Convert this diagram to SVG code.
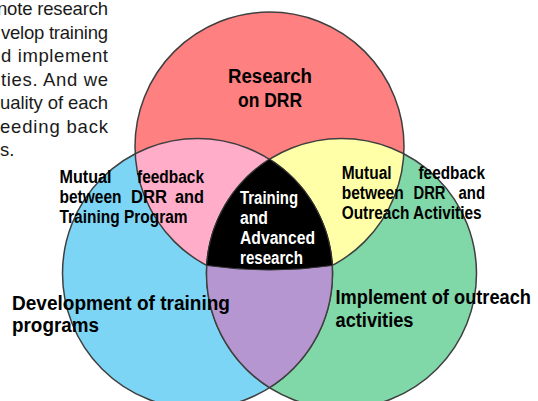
<svg xmlns="http://www.w3.org/2000/svg" width="538" height="401" viewBox="0 0 538 401">
<defs>
<style>
.ring{fill:none;stroke:#3f3f3f;stroke-width:1.5}
.lbl{font-family:"Liberation Sans",Arial,sans-serif;font-weight:bold;fill:#000}
.mid{font-size:17.5px}
.big{font-size:19.5px}
.wht{font-family:"Liberation Sans",Arial,sans-serif;font-weight:bold;font-size:17.5px;fill:#fff}
.para{font-family:"Liberation Sans",Arial,sans-serif;font-size:18.5px;fill:#1a1a1a}
</style>
<clipPath id="clipRed"><circle cx="269.5" cy="146.5" r="134.5"/></clipPath>
</defs>
<rect width="538" height="401" fill="#ffffff"/>
<g id="paragraph">
<text class="para" x="-3" y="15" textLength="111" lengthAdjust="spacing">note research</text>
<text class="para" x="1" y="38.5" textLength="107" lengthAdjust="spacing">velop training</text>
<text class="para" x="1" y="62" textLength="107" lengthAdjust="spacing">d implement</text>
<text class="para" x="1" y="85.5" textLength="107" lengthAdjust="spacing">ties. And we</text>
<text class="para" x="0" y="109" textLength="108" lengthAdjust="spacing">uality of each</text>
<text class="para" x="0" y="132.5" textLength="108" lengthAdjust="spacing">eeding back</text>
<text class="para" x="0" y="156">s.</text>
</g>
<g id="node-blue"><circle cx="197.5" cy="273.5" r="135" fill="#7dd5f5"/></g>
<g id="node-green"><circle cx="341.5" cy="273.5" r="135" fill="#80d7a8"/></g>
<g id="node-red"><circle cx="269.5" cy="146.5" r="134.5" fill="#ff8080"/></g>
<g id="overlap-red-blue"><circle cx="197.5" cy="273.5" r="135" fill="#ffadc9" clip-path="url(#clipRed)"/></g>
<g id="overlap-red-green"><circle cx="341.5" cy="273.5" r="135" fill="#ffffa8" clip-path="url(#clipRed)"/></g>
<g id="outlines">
<circle class="ring" cx="197.5" cy="273.5" r="135"/>
<circle class="ring" cx="341.5" cy="273.5" r="135"/>
<circle class="ring" cx="269.5" cy="146.5" r="134.5"/>
</g>
<g id="overlap-blue-green"><path d="M269.5 159.3A135 135 0 0 0 269.5 387.7A135 135 0 0 0 269.5 159.3Z" fill="#b596d0" stroke="#3f3f3f" stroke-width="1.5"/></g>
<g id="node-center"><path d="M269.5 159.3A135 135 0 0 0 206.6 265.5A440 440 0 0 0 332.4 265.5A135 135 0 0 0 269.5 159.3Z" fill="#000" stroke="#333" stroke-width="1"/>
<text class="wht" x="240" y="204" textLength="58" lengthAdjust="spacingAndGlyphs">Training</text>
<text class="wht" x="240" y="224" textLength="28" lengthAdjust="spacingAndGlyphs">and</text>
<text class="wht" x="240" y="244" textLength="75" lengthAdjust="spacingAndGlyphs">Advanced</text>
<text class="wht" x="240" y="264" textLength="63" lengthAdjust="spacingAndGlyphs">research</text>
</g>
<g id="labels-red">
<text class="lbl big" x="228" y="83" textLength="84" lengthAdjust="spacingAndGlyphs">Research</text>
<text class="lbl big" x="238" y="107" textLength="64" lengthAdjust="spacingAndGlyphs">on DRR</text>
</g>
<g id="labels-pink">
<text class="lbl mid" x="59.5" y="182.5" textLength="52" lengthAdjust="spacingAndGlyphs">Mutual</text>
<text class="lbl mid" x="137" y="182.5" textLength="67" lengthAdjust="spacingAndGlyphs">feedback</text>
<text class="lbl mid" x="59.5" y="202.5" textLength="62" lengthAdjust="spacingAndGlyphs">between</text>
<text class="lbl mid" x="131" y="202.5" textLength="36" lengthAdjust="spacingAndGlyphs">DRR</text>
<text class="lbl mid" x="175" y="202.5" textLength="29" lengthAdjust="spacingAndGlyphs">and</text>
<text class="lbl mid" x="59.5" y="222.5" textLength="128" lengthAdjust="spacingAndGlyphs">Training Program</text>
</g>
<g id="labels-yellow">
<text class="lbl mid" x="341.7" y="178.5" textLength="50" lengthAdjust="spacingAndGlyphs">Mutual</text>
<text class="lbl mid" x="418.5" y="178.5" textLength="66.5" lengthAdjust="spacingAndGlyphs">feedback</text>
<text class="lbl mid" x="341.7" y="198.5" textLength="62" lengthAdjust="spacingAndGlyphs">between</text>
<text class="lbl mid" x="413.5" y="198.5" textLength="32" lengthAdjust="spacingAndGlyphs">DRR</text>
<text class="lbl mid" x="458.5" y="198.5" textLength="26.5" lengthAdjust="spacingAndGlyphs">and</text>
<text class="lbl mid" x="341.7" y="219" textLength="140" lengthAdjust="spacingAndGlyphs">Outreach Activities</text>
</g>
<g id="labels-blue">
<text class="lbl big" x="12" y="310" textLength="218" lengthAdjust="spacingAndGlyphs">Development of training</text>
<text class="lbl big" x="12" y="332" textLength="87" lengthAdjust="spacingAndGlyphs">programs</text>
</g>
<g id="labels-green">
<text class="lbl big" x="335.5" y="304" textLength="195.5" lengthAdjust="spacingAndGlyphs">Implement of outreach</text>
<text class="lbl big" x="335.5" y="327" textLength="78" lengthAdjust="spacingAndGlyphs">activities</text>
</g>
<g id="connectors"/>
</svg>
